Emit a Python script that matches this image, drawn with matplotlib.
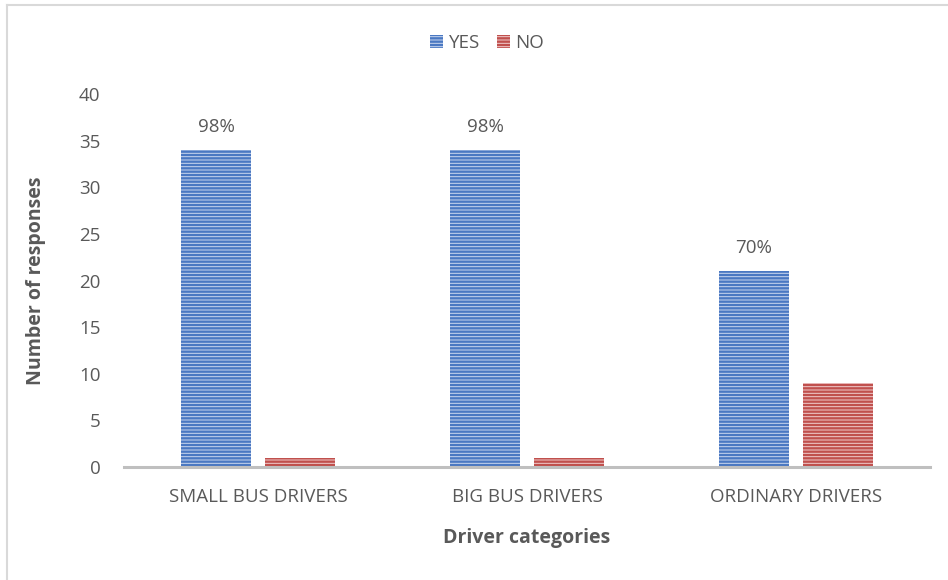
import matplotlib
matplotlib.use("Agg")
import matplotlib.pyplot as plt
from matplotlib.lines import Line2D
import numpy as np

plt.rcParams['font.family'] = ['Open Sans', 'DejaVu Sans']
plt.rcParams['hatch.linewidth'] = 1.7

categories = ["SMALL BUS DRIVERS", "BIG BUS DRIVERS", "ORDINARY DRIVERS"]
yes_counts = [34, 34, 21]
no_counts = [1, 1, 9]
yes_pct = ["98%", "98%", "70%"]

txt = "#595959"
blue_face, blue_line = "#c9d6ee", "#4a78c2"
red_face, red_line = "#f0cccc", "#c0504d"

fig = plt.figure(figsize=(9.48, 5.80), dpi=100)
ax = fig.add_axes([124 / 948, 1 - 467 / 580, (930 - 124) / 948, (467 - 94) / 580])

x = np.arange(len(categories))
w = 0.26
off = 0.156
yes_bars = ax.bar(x - off, yes_counts, w, facecolor=blue_face, edgecolor=blue_line,
                  hatch="-----", linewidth=0, label="YES")
no_bars = ax.bar(x + off, no_counts, w, facecolor=red_face, edgecolor=red_line,
                 hatch="-----", linewidth=0, label="NO")

for b, p in zip(yes_bars, yes_pct):
    ax.annotate(p, (b.get_x() + b.get_width() / 2, b.get_height()),
                xytext=(0, 10), textcoords="offset points",
                ha="center", va="bottom", fontsize=13.5, color=txt)

ax.set_xlim(-0.5, 2.5)
ax.set_ylim(0, 40)
ax.set_yticks(range(0, 41, 5))
ax.set_xticks(x)
ax.set_xticklabels(categories)
ax.tick_params(axis="both", length=0, labelsize=13.5, colors=txt)
ax.tick_params(axis="x", pad=15)
ax.tick_params(axis="y", pad=17)
for s in ["top", "right", "left"]:
    ax.spines[s].set_visible(False)
ax.spines["bottom"].set_color("#bfbfbf")
ax.spines["bottom"].set_linewidth(2.2)

ax.set_xlabel("Driver categories", fontsize=14, fontweight="bold", color=txt, labelpad=16)
ax.set_ylabel("Number of responses", fontsize=14, fontweight="bold", color=txt, labelpad=24)

fig.legend(handles=[yes_bars, no_bars], labels=["YES", "NO"], loc="center",
           bbox_to_anchor=(487 / 948, 1 - 43 / 580), ncol=2, frameon=False,
           fontsize=13.5, labelcolor=txt, handlelength=0.7, handleheight=0.7,
           handletextpad=0.3, columnspacing=0.9)

# outer frame
fig.add_artist(Line2D([6.5 / 948, 6.5 / 948], [0, 1 - 5 / 580], transform=fig.transFigure,
                      color="#d9d9d9", linewidth=1.5))
fig.add_artist(Line2D([6.5 / 948, 1], [1 - 5 / 580, 1 - 5 / 580], transform=fig.transFigure,
                      color="#d9d9d9", linewidth=1.5))

fig.savefig("out.png", dpi=100, facecolor="white")
